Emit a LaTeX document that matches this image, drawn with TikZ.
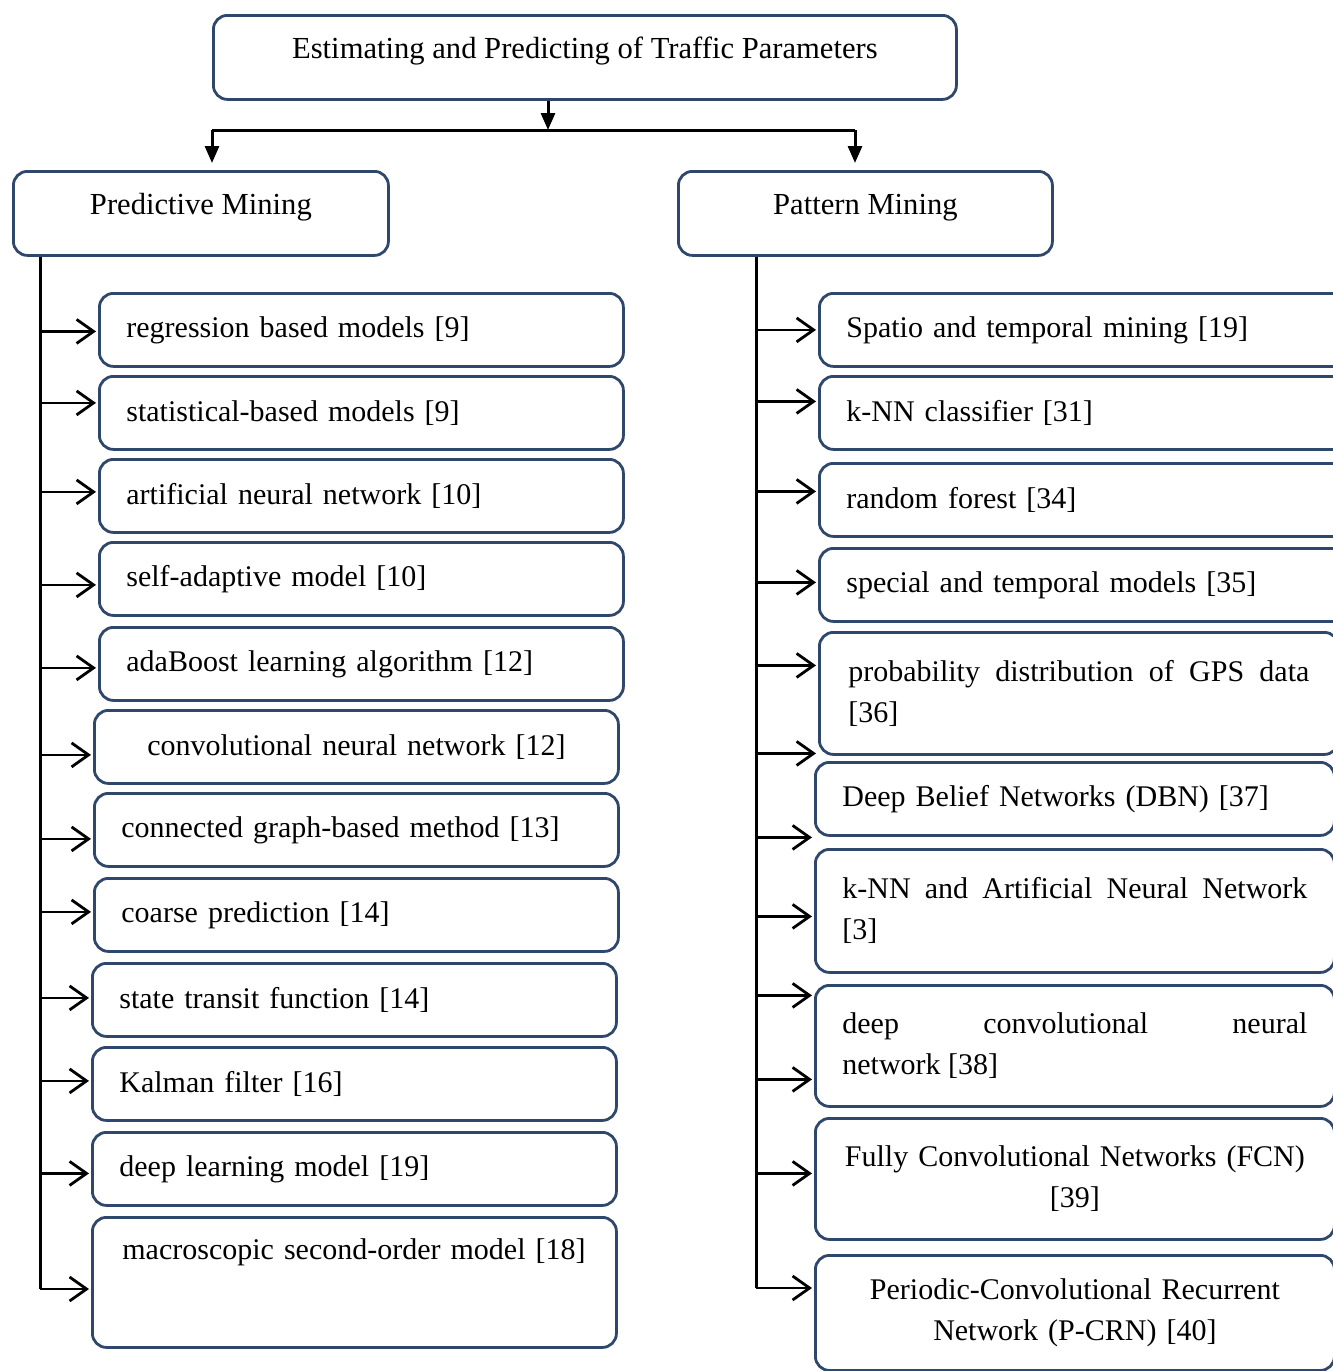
\documentclass[tikz,border=0pt]{standalone}
\usepackage{fontspec}
\setmainfont{Liberation Serif}
\usetikzlibrary{arrows.meta}
\definecolor{boxblue}{RGB}{46,71,106}
\newcommand{\headfont}{\fontsize{15.3}{20.5}\selectfont}
\newcommand{\boxfont}{\fontsize{15}{20.5}\selectfont}
\hyphenpenalty=10000
\exhyphenpenalty=10000
\hbadness=10000

\begin{document}
\begin{tikzpicture}[x=0.5pt,y=-0.5pt,shorten >=1pt]
        \tikzstyle{head}=[draw=boxblue,line width=1.4pt,rounded corners=7pt,anchor=north west,inner ysep=0pt,text height=21.5pt,text depth=20.5pt,font=\headfont]
        \tikzstyle{pbox}=[draw=boxblue,line width=1.4pt,rounded corners=7pt,anchor=north west,inner xsep=13.5pt,inner ysep=0pt,text width=235pt,align=left,minimum height=36.5pt,font=\boxfont]
        \tikzstyle{qbox}=[pbox,text width=232.5pt]
        \tikzstyle{link}=[-{Straight Barb[length=8.5pt,width=12pt]},line width=1.4pt]
        \tikzstyle{drop}=[-{Triangle[length=8.5pt,width=7pt]},line width=1.5pt,shorten >=0pt]
        \tikzstyle{trunk}=[line width=1.5pt,shorten >=0pt]

        \clip (0,0) rectangle (1333,1371);

        \node[head,minimum width=371.5pt](top) at (212,14){Estimating and Predicting of Traffic Parameters};
        \node[head,minimum width=187.5pt](pm) at (12,170){Predictive Mining};
        \node[head,minimum width=187pt](tm) at (677,170){Pattern Mining};

        % predictive side
        \node[pbox](p1) at (98,292){regression based models [9]};
        \node[pbox](p2) at (98,375){statistical-based models [9]};
        \node[pbox](p3) at (98,458){artificial neural network [10]};
        \node[pbox](p4) at (98,541){self-adaptive model [10]};
        \node[pbox](p5) at (98,626){adaBoost learning algorithm [12]};
        \node[pbox,align=center](p6) at (93,709){convolutional neural network [12]};
        \node[pbox](p7) at (93,792){connected graph-based method [13]};
        \node[pbox](p8) at (93,877){coarse prediction [14]};
        \node[pbox](p9) at (91,962){state transit function [14]};
        \node[pbox](p10) at (91,1046){Kalman filter [16]};
        \node[pbox](p11) at (91,1131){deep learning model [19]};
        \node[pbox,inner xsep=15pt,text width=232pt,text height=21pt,text depth=44pt](p12) at (91,1216){macroscopic second-order model [18]};

        % pattern side
        \node[qbox,text width=240pt](q1) at (818,292){Spatio and temporal mining [19]};
        \node[qbox,text width=240pt](q2) at (818,375){k-NN classifier [31]};
        \node[qbox,text width=240pt](q3) at (818,462){random forest [34]};
        \node[qbox,text width=240pt](q4) at (818,547){special and temporal models [35]};
        \node[qbox,align=justify,inner xsep=14.5pt,text width=230.5pt,minimum height=61pt](q5) at (818,631){probability distribution of GPS data\linebreak{}[36]};
        \node[qbox](q6) at (814,761){Deep Belief Networks (DBN) [37]};
        \node[qbox,align=justify,minimum height=61.5pt](q7) at (814,848){k-NN and Artificial Neural Network\linebreak{}[3]};
        \node[qbox,align=justify,minimum height=60.5pt](q8) at (814,984){deep convolutional neural\linebreak network [38]};
        \node[qbox,align=center,inner xsep=5pt,text width=249.5pt,minimum height=60.5pt](q9) at (814,1117){Fully Convolutional Networks (FCN)\\ {[39]}};
        \node[qbox,align=center,inner xsep=5pt,text width=249.5pt,minimum height=57.5pt](q10) at (814,1254){Periodic-Convolutional Recurrent\\ Network (P-CRN) [40]};

        \coordinate (split) at (548,130);
        \coordinate (barL) at (212,130);
        \coordinate (barR) at (855,130);
        \coordinate (lend) at (40,1289);
        \coordinate (rend) at (756,1288);

        \draw[drop] (split |- top.south) -- (split);
        \draw[trunk] (barL) -- (barR);
        \draw[drop,shorten >=3.5pt] (barL) -- (barL |- pm.north);
        \draw[drop,shorten >=3.5pt] (barR) -- (barR |- tm.north);

        \draw[trunk] (lend |- pm.south) -- (lend);
        \draw[trunk] (rend |- tm.south) -- (rend);

        \draw[link] ([yshift=-0.75pt]p1.west -| lend) -- ([yshift=-0.75pt]p1.west);
        \draw[link] ([yshift=5pt]p2.west -| lend) -- ([yshift=5pt]p2.west);
        \draw[link] ([yshift=2pt]p3.west -| lend) -- ([yshift=2pt]p3.west);
        \draw[link] ([yshift=-3pt]p4.west -| lend) -- ([yshift=-3pt]p4.west);
        \draw[link] ([yshift=-2pt]p5.west -| lend) -- ([yshift=-2pt]p5.west);
        \draw[link] ([yshift=-4pt]p6.west -| lend) -- ([yshift=-4pt]p6.west);
        \draw[link] ([yshift=-4.5pt]p7.west -| lend) -- ([yshift=-4.5pt]p7.west);
        \draw[link] ([yshift=1.5pt]p8.west -| lend) -- ([yshift=1.5pt]p8.west);
        \draw[link] ([yshift=1pt]p9.west -| lend) -- ([yshift=1pt]p9.west);
        \draw[link] ([yshift=1.5pt]p10.west -| lend) -- ([yshift=1.5pt]p10.west);
        \draw[link] ([yshift=-2.25pt]p11.west -| lend) -- ([yshift=-2.25pt]p11.west);
        \draw[link] (lend) -- (p12.west |- lend);

        \draw[link] (q1.west -| rend) -- (q1.west);
        \draw[link] ([yshift=5.75pt]q2.west -| rend) -- ([yshift=5.75pt]q2.west);
        \draw[link] ([yshift=4.25pt]q3.west -| rend) -- ([yshift=4.25pt]q3.west);
        \draw[link] ([yshift=1.25pt]q4.west -| rend) -- ([yshift=1.25pt]q4.west);
        \draw[link] ([yshift=14pt]q5.west -| rend) -- ([yshift=14pt]q5.west);
        \draw[link] ([yshift=-30pt]q5.west -| rend) -- ([yshift=-30pt]q5.west);
        \draw[link] ([yshift=-19.25pt]q6.west -| rend) -- ([yshift=-19.25pt]q6.west);
        \draw[link] ([yshift=-2.75pt]q7.west -| rend) -- ([yshift=-2.75pt]q7.west);
        \draw[link] ([yshift=25.25pt]q8.west -| rend) -- ([yshift=25.25pt]q8.west);
        \draw[link] ([yshift=-16.75pt]q8.west -| rend) -- ([yshift=-16.75pt]q8.west);
        \draw[link] ([yshift=2.75pt]q9.west -| rend) -- ([yshift=2.75pt]q9.west);
        \draw[link] (rend) -- (q10.west |- rend);

    \end{tikzpicture}
\end{document}
